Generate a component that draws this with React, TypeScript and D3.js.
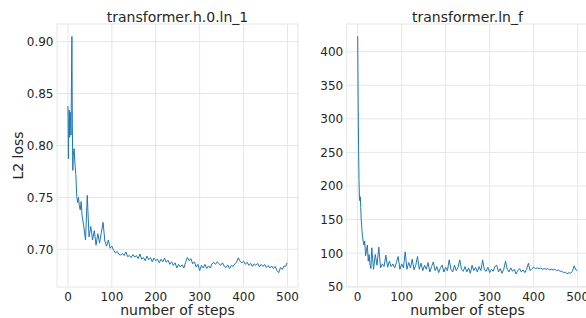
import React from 'react';
import * as d3 from 'd3';

// training steps sampled from the curves (x positions)
const steps = [
  0, 1, 2, 3, 4, 5, 6, 7, 8, 9, 10, 11, 12,
  14, 16, 18, 20, 22, 24, 26, 28, 30,
  32, 36, 40, 44, 48, 52, 56, 60, 64, 68, 72, 76, 80, 84, 88, 92, 96,
  100, 104, 108, 112, 116, 120, 124, 128, 132, 136, 140, 144, 148, 152, 156, 160, 164, 168, 172, 176, 180, 184, 188, 192, 196,
  200, 204, 208, 212, 216, 220, 224, 228, 232, 236, 240, 244, 248, 252, 256, 260, 264, 268, 272, 276, 280, 284, 288, 292, 296,
  300, 304, 308, 312, 316, 320, 324, 328, 332, 336, 340, 344, 348, 352, 356, 360, 364, 368, 372, 376, 380, 384, 388, 392, 396,
  400, 404, 408, 412, 416, 420, 424, 428, 432, 436, 440, 444, 448, 452, 456, 460, 464, 468, 472, 476, 480, 484, 488, 492, 496,
  499,
];

// transformer.h.0.ln_1
const lossLn1 = [
  0.838, 0.787, 0.82, 0.834, 0.808, 0.832, 0.822, 0.81, 0.86, 0.905, 0.82, 0.776, 0.79,
  0.797, 0.782, 0.772, 0.751, 0.745, 0.75, 0.742, 0.738, 0.746,
  0.733, 0.722, 0.709, 0.752, 0.712, 0.722, 0.709, 0.718, 0.704, 0.715, 0.706, 0.716, 0.726, 0.708, 0.703, 0.709, 0.701,
  0.703, 0.699, 0.6965, 0.698, 0.695, 0.6945, 0.696, 0.694, 0.6975, 0.693, 0.694, 0.692, 0.695, 0.6925, 0.694, 0.691, 0.6955, 0.6905, 0.692, 0.689, 0.6935, 0.69, 0.692, 0.688, 0.6915,
  0.689, 0.6905, 0.687, 0.6905, 0.688, 0.6915, 0.6875, 0.6895, 0.6855, 0.688, 0.6845, 0.687, 0.682, 0.6855, 0.683, 0.685, 0.682, 0.6875, 0.6922, 0.689, 0.691, 0.686, 0.688, 0.683, 0.6855,
  0.6795, 0.6845, 0.682, 0.6855, 0.6815, 0.684, 0.682, 0.686, 0.6875, 0.6855, 0.688, 0.686, 0.6845, 0.687, 0.6835, 0.6825, 0.685, 0.6815, 0.6845, 0.6835, 0.686, 0.6875, 0.6918, 0.6885, 0.687,
  0.6885, 0.6855, 0.6875, 0.6845, 0.6865, 0.6835, 0.686, 0.6845, 0.6865, 0.683, 0.6855, 0.6835, 0.6855, 0.6825, 0.6845, 0.682, 0.684, 0.6815, 0.6835, 0.6795, 0.6775, 0.6825, 0.6805, 0.684, 0.6835,
  0.687,
];

// transformer.ln_f
const lossLnF = [
  423, 330, 260, 210, 182, 178, 184, 168, 150, 142, 132, 125, 120,
  112, 118, 96, 104, 112, 88, 98, 84, 77,
  108, 76, 98, 82, 109, 78, 84, 80, 97, 79, 88, 80, 84, 78, 86, 95, 76,
  84, 78, 102, 76, 86, 78, 91, 75, 82, 95, 76, 85, 74, 82, 76, 86, 72, 80, 87, 74, 80, 71, 78, 82, 72,
  79, 74, 90, 76, 72, 82, 74, 79, 90, 76, 73, 80, 72, 78, 70, 82, 74, 79, 72, 80, 74, 90, 75, 73, 79,
  71, 76, 73, 80, 82, 72, 77, 70, 76, 88, 76, 72, 78, 73, 76, 69, 74, 77, 72, 75, 71, 76, 85, 74, 77,
  79, 77, 78, 77, 78, 76, 77, 76, 77, 75, 76, 75, 76, 74, 75, 73, 73, 71, 72, 69, 71, 70, 73, 81, 75,
  74,
];

const xTicks = [0, 100, 200, 300, 400, 500];
const ln1Ticks = [0.7, 0.75, 0.8, 0.85, 0.9];
const lnFTicks = [50, 100, 150, 200, 250, 300, 350, 400];

const W = 586;
const H = 318;
const FONT = 'DejaVu Sans, sans-serif';
const GRID = '#e6e6e6';
const TEXT = '#262626';
const BLUE = '#1f77b4';

type PanelProps = {
  title: string;
  values: number[];
  left: number;
  right: number;
  yDomain: [number, number];
  yTicks: number[];
  yFormat: (v: number) => string;
  yLabel?: string;
};

function Panel({ title, values, left, right, yDomain, yTicks, yFormat, yLabel }: PanelProps) {
  const top = 24;
  const bottom = 287;
  const x = d3.scaleLinear().domain([-24.95, 523.95]).range([left, right]);
  const y = d3.scaleLinear().domain(yDomain).range([bottom, top]);
  const line = d3
    .line<number>()
    .x((_, i) => x(steps[i]))
    .y((d) => y(d));

  return (
    <g fontFamily={FONT}>
      <rect x={left} y={top} width={right - left} height={bottom - top} fill="white" stroke={GRID} strokeWidth={1} />
      {xTicks.map((t) => (
        <line key={'gx' + t} x1={x(t)} x2={x(t)} y1={top} y2={bottom} stroke={GRID} strokeWidth={1} />
      ))}
      {yTicks.map((t) => (
        <line key={'gy' + t} x1={left} x2={right} y1={y(t)} y2={y(t)} stroke={GRID} strokeWidth={1} />
      ))}
      <path d={line(values) || ''} fill="none" stroke={BLUE} strokeWidth={1} strokeLinejoin="round" />
      {xTicks.map((t) => (
        <text key={'tx' + t} x={x(t)} y={300.8} fontSize={12} fill={TEXT} textAnchor="middle">
          {t}
        </text>
      ))}
      {yTicks.map((t) => (
        <text key={'ty' + t} x={left - 3.5} y={y(t) + 4.4} fontSize={12} fill={TEXT} textAnchor="end">
          {yFormat(t)}
        </text>
      ))}
      <text x={(left + right) / 2} y={21.5} fontSize={14} fill={TEXT} textAnchor="middle">
        {title}
      </text>
      <text x={(left + right) / 2} y={315} fontSize={14} fill={TEXT} textAnchor="middle">
        number of steps
      </text>
      {yLabel && (
        <text
          transform={`translate(23.3,${(top + bottom) / 2}) rotate(-90)`}
          fontSize={14}
          fill={TEXT}
          textAnchor="middle"
        >
          {yLabel}
        </text>
      )}
    </g>
  );
}

export default function App() {
  return (
    <svg
      width={W}
      height={H}
      style={{ position: 'absolute', left: 0, top: 0, background: 'white' }}
    >
      <rect width={W} height={H} fill="white" />
      <Panel
        title="transformer.h.0.ln_1"
        values={lossLn1}
        left={57}
        right={298}
        yDomain={[0.6637, 0.917]}
        yTicks={ln1Ticks}
        yFormat={d3.format('.2f')}
        yLabel="L2 loss"
      />
      <Panel
        title="transformer.ln_f"
        values={lossLnF}
        left={346.7}
        right={588.2}
        yDomain={[49.6, 441.2]}
        yTicks={lnFTicks}
        yFormat={d3.format('d')}
      />
    </svg>
  );
}
